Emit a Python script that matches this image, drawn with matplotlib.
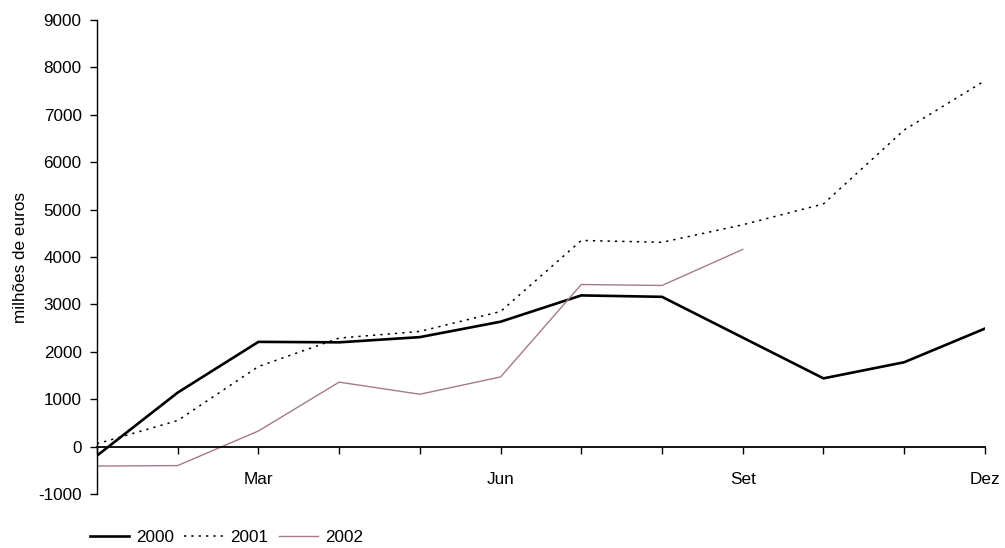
import matplotlib
matplotlib.use("Agg")
import matplotlib.pyplot as plt

plt.rcParams['font.family'] = ['Liberation Sans', 'DejaVu Sans']

months = ['Jan', 'Fev', 'Mar', 'Abr', 'Mai', 'Jun', 'Jul', 'Ago', 'Set', 'Out', 'Nov', 'Dez']
shown_labels = ['', '', 'Mar', '', '', 'Jun', '', '', 'Set', '', '', 'Dez']
s2000 = [-190, 1140, 2210, 2200, 2310, 2635, 3190, 3160, 2300, 1440, 1780, 2490]
s2001 = [60, 550, 1690, 2290, 2430, 2850, 4350, 4310, 4680, 5120, 6680, 7720]
s2002 = [-410, -400, 330, 1360, 1105, 1470, 3420, 3400, 4160]
yticks = list(range(-1000, 9001, 1000))

FS = 12.3

fig = plt.figure(figsize=(10.05, 5.48), dpi=100)
ax = fig.add_axes([0.0965, 0.0985, 0.8835, 0.8650])

x = list(range(len(months)))
l1, = ax.plot(x, s2000, color='black', lw=1.9, label='2000')
l2, = ax.plot(x, s2001, color='black', lw=1.1, linestyle=(0, (1.5, 3.3)), label='2001')
l3, = ax.plot(x[:len(s2002)], s2002, color='#A67A88', lw=1.0, label='2002')

for s in ['top', 'right']:
    ax.spines[s].set_visible(False)
ax.spines['bottom'].set_position(('data', 0))
ax.spines['bottom'].set_linewidth(1.3)
ax.spines['left'].set_linewidth(1.0)

ax.set_xlim(0, 11)
ax.set_ylim(-1000, 9000)
ax.set_yticks(yticks)
ax.set_yticklabels([str(v) for v in yticks])
ax.set_xticks(x)
ax.set_xticklabels(shown_labels)
ax.tick_params(axis='y', direction='out', length=5, width=1, pad=6, labelsize=FS)
ax.tick_params(axis='x', direction='out', length=5, width=1, pad=13, labelsize=FS)

ax.set_ylabel('milhões de euros', fontsize=FS)
ax.yaxis.set_label_coords(-0.078, 0.5)

fig.legend(handles=[l1, l2, l3], loc='center left', bbox_to_anchor=(0.0896, 0.02), ncol=3,
           frameon=False, fontsize=FS, handlelength=2.3, handletextpad=0.4,
           columnspacing=0.6, borderpad=0, borderaxespad=0)

fig.savefig('out.png', dpi=100)
